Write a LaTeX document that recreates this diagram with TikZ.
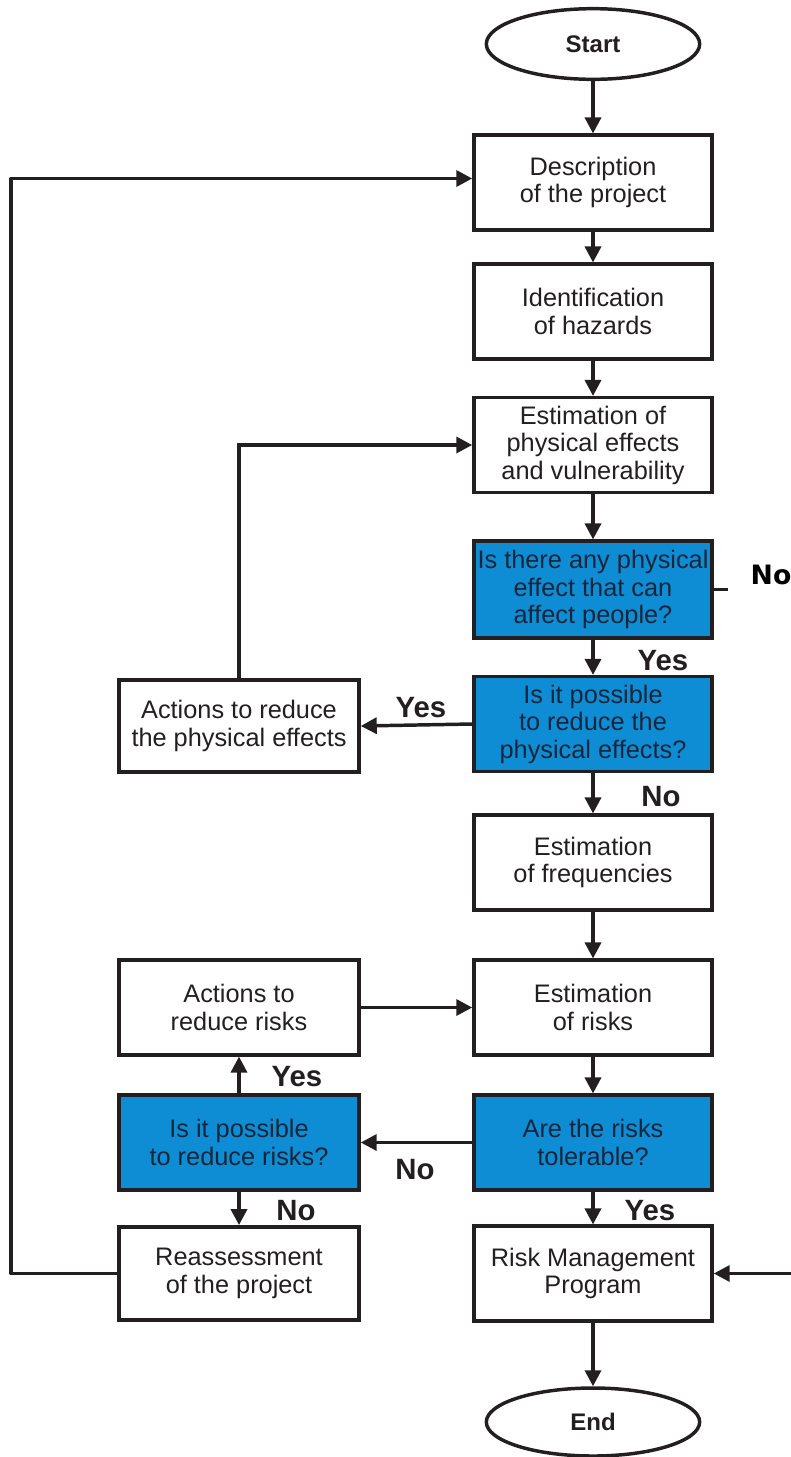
\documentclass[tikz,border=0pt]{standalone}
\usepackage{fontspec}
\setmainfont{Liberation Sans}
\newfontfamily\heavyfont{DejaVu Sans}
\usetikzlibrary{shapes.geometric,arrows.meta}
\definecolor{qblue}{RGB}{14,140,212}
\definecolor{ink}{RGB}{35,31,32}
\definecolor{qink}{RGB}{22,38,58}
\begin{document}
\begin{tikzpicture}[x=0.75pt,y=-0.75pt,
  line width=2.6pt, draw=ink,
  base/.style={draw=ink, line width=2.6pt, inner sep=0pt, align=center,
    font=\fontsize{19}{20.6}\selectfont, text=ink},
  stepbox/.style={base, rectangle, minimum width=178.5pt, minimum height=71pt},
  askbox/.style={stepbox, fill=qblue, text=qink},
  terminal/.style={base, ellipse, minimum width=160pt, minimum height=53pt,
    font=\fontsize{18}{20}\selectfont\bfseries},
  flow/.style={draw=ink, line width=2.6pt, -{Triangle[length=12pt,width=12pt]}},
  tag/.style={font=\fontsize{22}{24}\selectfont\bfseries, text=ink, inner sep=0pt}]
\useasboundingbox (0,0) rectangle (791,1457);

% terminals
\node[terminal] (start) at (593,44) {Start};
\node[terminal, minimum height=51pt] (end) at (593,1422) {End};

% main column
\node[stepbox] (desc) at (593,182.5) {Description\\of the project};
\node[stepbox] (ident) at (593,311.5) {Identification\\of hazards};
\node[stepbox] (estphys) at (593,445) {Estimation of\\physical effects\\and vulnerability};
\node[askbox, minimum height=72.5pt] (q1) at (593,589.5) {Is there any physical\\effect that can\\affect people?};
\node[askbox] (q2) at (593,724) {Is it possible\\to reduce the\\physical effects?};
\node[stepbox] (estfreq) at (593,862.5) {Estimation\\of frequencies};
\node[stepbox] (estrisk) at (593,1007.5) {Estimation\\of risks};
\node[askbox] (q3) at (593,1142.5) {Are the risks\\tolerable?};
\node[stepbox] (rmp) at (593,1273.5) {Risk Management\\Program};

% side column
\node[stepbox, minimum width=180pt, minimum height=69pt] (actphys) at (239,726) {Actions to reduce\\the physical effects};
\node[stepbox, minimum width=180pt] (actrisk) at (239,1007.5) {Actions to\\reduce risks};
\node[askbox, minimum width=180pt] (q4) at (239,1142.5) {Is it possible\\to reduce risks?};
\node[stepbox, minimum width=180pt, minimum height=70pt] (reass) at (239,1273.5) {Reassessment\\of the project};

% free ends
\coordinate (noend) at (728,589.5);
\coordinate (rightin) at (791,1273.5);
\coordinate (loopx) at (11,1273.5);

% main flow
\draw[flow] (start) -- (desc);
\draw[flow] (desc) -- (ident);
\draw[flow] (ident) -- (estphys);
\draw[flow] (estphys) -- (q1);
\draw[flow] (q1) -- (q2);
\draw[flow] (q2) -- (estfreq);
\draw[flow] (estfreq) -- (estrisk);
\draw[flow] (estrisk) -- (q3);
\draw[flow] (q3) -- (rmp);
\draw[flow] (rmp) -- (end);

% branches
\draw (q1.east) -- (noend);
\draw[flow] (q2.west) -- (actphys.east);
\draw[flow] (actphys.north) |- (estphys.west);
\draw[flow] (q3.west) -- (q4.east);
\draw[flow] (q4) -- (actrisk);
\draw[flow] (actrisk.east) -- (estrisk.west);
\draw[flow] (q4) -- (reass);
\draw[flow, line join=round] (reass.west) -- (loopx) |- ([yshift=3pt]desc.west);
\draw[flow] (rightin) -- (rmp.east);

% answers
\node[font=\fontsize{20}{22}\selectfont\heavyfont\bfseries, inner sep=0pt, anchor=west] (notag) at (749,575) {No};
\node[tag] (y1) at (663,661) {Yes};
\node[tag] (y2) at (421,708) {Yes};
\node[tag] (n2) at (661,797) {No};
\node[tag] (y4) at (297,1077) {Yes};
\node[tag] (n3) at (415,1170) {No};
\node[tag] (n4) at (296,1211) {No};
\node[tag] (y3) at (650,1211) {Yes};
\end{tikzpicture}
\end{document}
